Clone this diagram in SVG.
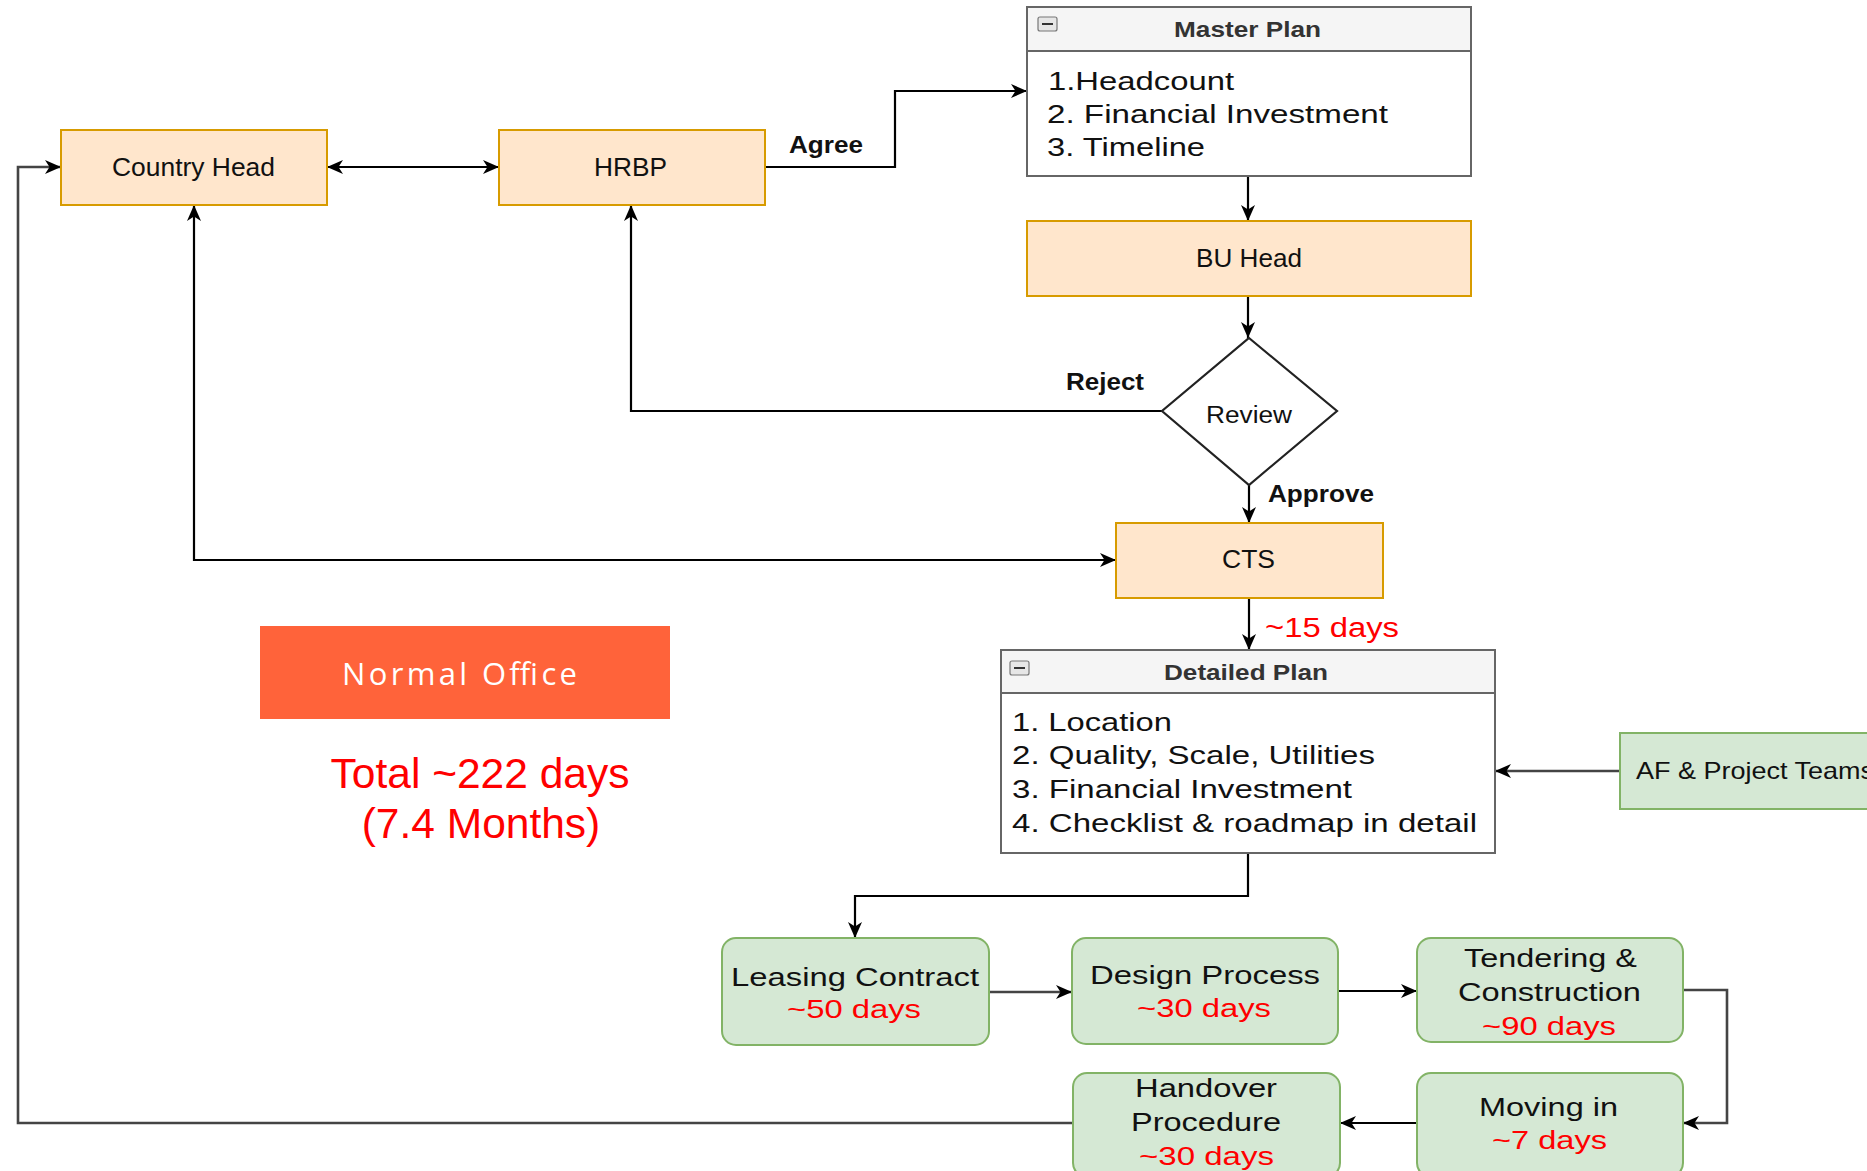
<svg xmlns="http://www.w3.org/2000/svg" width="1867" height="1171" viewBox="0 0 1867 1171">
<defs>
<marker id="arr" markerUnits="userSpaceOnUse" markerWidth="18" markerHeight="16" refX="16" refY="7" orient="auto-start-reverse">
<path d="M0,0 L16,7 L0,14 L4.5,7 Z" fill="#000"/>
</marker>
<style>
.org{fill:#ffe6cc;stroke:#d79b00;stroke-width:2}
.grn{fill:#d5e8d4;stroke:#82b366;stroke-width:2}
.lane{fill:#fff;stroke:#666;stroke-width:2}
.hdr{fill:#f5f5f5;stroke:#666;stroke-width:2}
.t{font-family:"Liberation Sans",Arial,sans-serif;fill:#111}
.b{font-weight:bold}
.r{fill:#ff0000}
.c{fill:none;stroke:#000;stroke-width:2.2}
.g{fill:none;stroke:#444;stroke-width:2.6}
.ico{fill:#e6e6e6;stroke:#777;stroke-width:1.2}
</style>
</defs>
<rect width="1867" height="1171" fill="#fff"/>

<g id="connectors">
<path class="c" d="M327,167 L499,167" marker-start="url(#arr)" marker-end="url(#arr)"/>
<path class="c" d="M765,167 L895,167 L895,91 L1027,91" marker-end="url(#arr)"/>
<path class="c" d="M1248,176 L1248,221" marker-end="url(#arr)"/>
<path class="c" d="M1248,296 L1248,338" marker-end="url(#arr)"/>
<path class="c" d="M1162,411 L631,411 L631,205" marker-end="url(#arr)"/>
<path class="c" d="M1249,485 L1249,523" marker-end="url(#arr)"/>
<path class="c" d="M194,205 L194,560 L1116,560" marker-start="url(#arr)" marker-end="url(#arr)"/>
<path class="c" d="M1249,598 L1249,650" marker-end="url(#arr)"/>
<path class="g" d="M1620,771 L1495,771" marker-end="url(#arr)"/>
<path class="c" d="M1248,853 L1248,896 L855,896 L855,938" marker-end="url(#arr)"/>
<path class="g" d="M989,992 L1072,992" marker-end="url(#arr)"/>
<path class="c" d="M1338,991 L1417,991" marker-end="url(#arr)"/>
<path class="g" d="M1683,990 L1727,990 L1727,1123 L1683,1123" marker-end="url(#arr)"/>
<path class="c" d="M1417,1123 L1340,1123" marker-end="url(#arr)"/>
<path class="g" d="M1073,1123 L18,1123 L18,167 L61,167" marker-end="url(#arr)"/>
<text class="t b" x="789" y="153" font-size="23" textLength="74" lengthAdjust="spacingAndGlyphs">Agree</text>
<text class="t b" x="1066" y="390" font-size="24" textLength="78" lengthAdjust="spacingAndGlyphs">Reject</text>
<text class="t b" x="1268" y="502" font-size="24" textLength="106" lengthAdjust="spacingAndGlyphs">Approve</text>
<text class="t r" x="1265" y="637" font-size="27" textLength="134" lengthAdjust="spacingAndGlyphs">~15 days</text>
</g>

<g id="country-head">
<rect class="org" x="61" y="130" width="266" height="75"/>
<text class="t" x="112" y="176" font-size="25" textLength="163" lengthAdjust="spacingAndGlyphs">Country Head</text>
</g>

<g id="hrbp">
<rect class="org" x="499" y="130" width="266" height="75"/>
<text class="t" x="594" y="176" font-size="25" textLength="73" lengthAdjust="spacingAndGlyphs">HRBP</text>
</g>

<g id="master-plan">
<rect class="lane" x="1027" y="7" width="444" height="169"/>
<rect class="hdr" x="1027" y="7" width="444" height="44"/>
<rect class="ico" x="1038" y="17" width="19" height="14" rx="2"/>
<line x1="1042" y1="24" x2="1053" y2="24" stroke="#333" stroke-width="2"/>
<text class="t b" x="1174" y="37" font-size="22" style="fill:#333" textLength="147" lengthAdjust="spacingAndGlyphs">Master Plan</text>
<text class="t" x="1048" y="90" font-size="26" textLength="186" lengthAdjust="spacingAndGlyphs">1.Headcount</text>
<text class="t" x="1047" y="123" font-size="26" textLength="341" lengthAdjust="spacingAndGlyphs">2. Financial Investment</text>
<text class="t" x="1047" y="156" font-size="26" textLength="158" lengthAdjust="spacingAndGlyphs">3. Timeline</text>
</g>

<g id="bu-head">
<rect class="org" x="1027" y="221" width="444" height="75"/>
<text class="t" x="1196" y="267" font-size="25" textLength="106" lengthAdjust="spacingAndGlyphs">BU Head</text>
</g>

<g id="review">
<polygon points="1249,338 1337,411 1249,485 1162,411" fill="#fff" stroke="#222" stroke-width="2.2"/>
<text class="t" x="1206" y="423" font-size="23" textLength="86" lengthAdjust="spacingAndGlyphs">Review</text>
</g>

<g id="cts">
<rect class="org" x="1116" y="523" width="267" height="75"/>
<text class="t" x="1222" y="568" font-size="25" textLength="53" lengthAdjust="spacingAndGlyphs">CTS</text>
</g>

<g id="detailed-plan">
<rect class="lane" x="1001" y="650" width="494" height="203"/>
<rect class="hdr" x="1001" y="650" width="494" height="43"/>
<rect class="ico" x="1010" y="661" width="19" height="14" rx="2"/>
<line x1="1014" y1="668" x2="1025" y2="668" stroke="#333" stroke-width="2"/>
<text class="t b" x="1164" y="680" font-size="22" style="fill:#333" textLength="164" lengthAdjust="spacingAndGlyphs">Detailed Plan</text>
<text class="t" x="1012" y="731" font-size="26" textLength="160" lengthAdjust="spacingAndGlyphs">1. Location</text>
<text class="t" x="1012" y="764" font-size="26" textLength="363" lengthAdjust="spacingAndGlyphs">2. Quality, Scale, Utilities</text>
<text class="t" x="1012" y="798" font-size="26" textLength="340" lengthAdjust="spacingAndGlyphs">3. Financial Investment</text>
<text class="t" x="1012" y="832" font-size="26" textLength="465" lengthAdjust="spacingAndGlyphs">4. Checklist &amp; roadmap in detail</text>
</g>

<g id="af-project-teams">
<rect class="grn" x="1620" y="733" width="280" height="76"/>
<text class="t" x="1636" y="779" font-size="24" textLength="238" lengthAdjust="spacingAndGlyphs">AF &amp; Project Teams</text>
</g>

<g id="leasing-contract">
<rect class="grn" x="722" y="938" width="267" height="107" rx="14"/>
<text class="t" x="731" y="986" font-size="26" textLength="248" lengthAdjust="spacingAndGlyphs">Leasing Contract</text>
<text class="t r" x="787" y="1018" font-size="26" textLength="134" lengthAdjust="spacingAndGlyphs">~50 days</text>
</g>

<g id="design-process">
<rect class="grn" x="1072" y="938" width="266" height="106" rx="14"/>
<text class="t" x="1090" y="984" font-size="26" textLength="230" lengthAdjust="spacingAndGlyphs">Design Process</text>
<text class="t r" x="1137" y="1017" font-size="26" textLength="134" lengthAdjust="spacingAndGlyphs">~30 days</text>
</g>

<g id="tendering-construction">
<rect class="grn" x="1417" y="938" width="266" height="104" rx="14"/>
<text class="t" x="1464" y="967" font-size="26" textLength="173" lengthAdjust="spacingAndGlyphs">Tendering &amp;</text>
<text class="t" x="1458" y="1001" font-size="26" textLength="183" lengthAdjust="spacingAndGlyphs">Construction</text>
<text class="t r" x="1482" y="1035" font-size="26" textLength="134" lengthAdjust="spacingAndGlyphs">~90 days</text>
</g>

<g id="moving-in">
<rect class="grn" x="1417" y="1073" width="266" height="104" rx="14"/>
<text class="t" x="1479" y="1116" font-size="26" textLength="139" lengthAdjust="spacingAndGlyphs">Moving in</text>
<text class="t r" x="1492" y="1149" font-size="26" textLength="115" lengthAdjust="spacingAndGlyphs">~7 days</text>
</g>

<g id="handover-procedure">
<rect class="grn" x="1073" y="1073" width="267" height="104" rx="14"/>
<text class="t" x="1135" y="1097" font-size="26" textLength="142" lengthAdjust="spacingAndGlyphs">Handover</text>
<text class="t" x="1131" y="1131" font-size="26" textLength="150" lengthAdjust="spacingAndGlyphs">Procedure</text>
<text class="t r" x="1139" y="1165" font-size="26" textLength="135" lengthAdjust="spacingAndGlyphs">~30 days</text>
</g>

<g id="normal-office">
<rect x="260" y="626" width="410" height="93" fill="#ff633a"/>
<text x="342" y="685" font-family="'Open Sans','Noto Sans',sans-serif" font-size="31" fill="#fff" textLength="235" lengthAdjust="spacing">Normal Office</text>
</g>

<g id="total">
<text class="t r" x="480" y="788" font-size="42.5" text-anchor="middle">Total ~222 days</text>
<text class="t r" x="481" y="838" font-size="42.5" text-anchor="middle">(7.4 Months)</text>
</g>
</svg>
